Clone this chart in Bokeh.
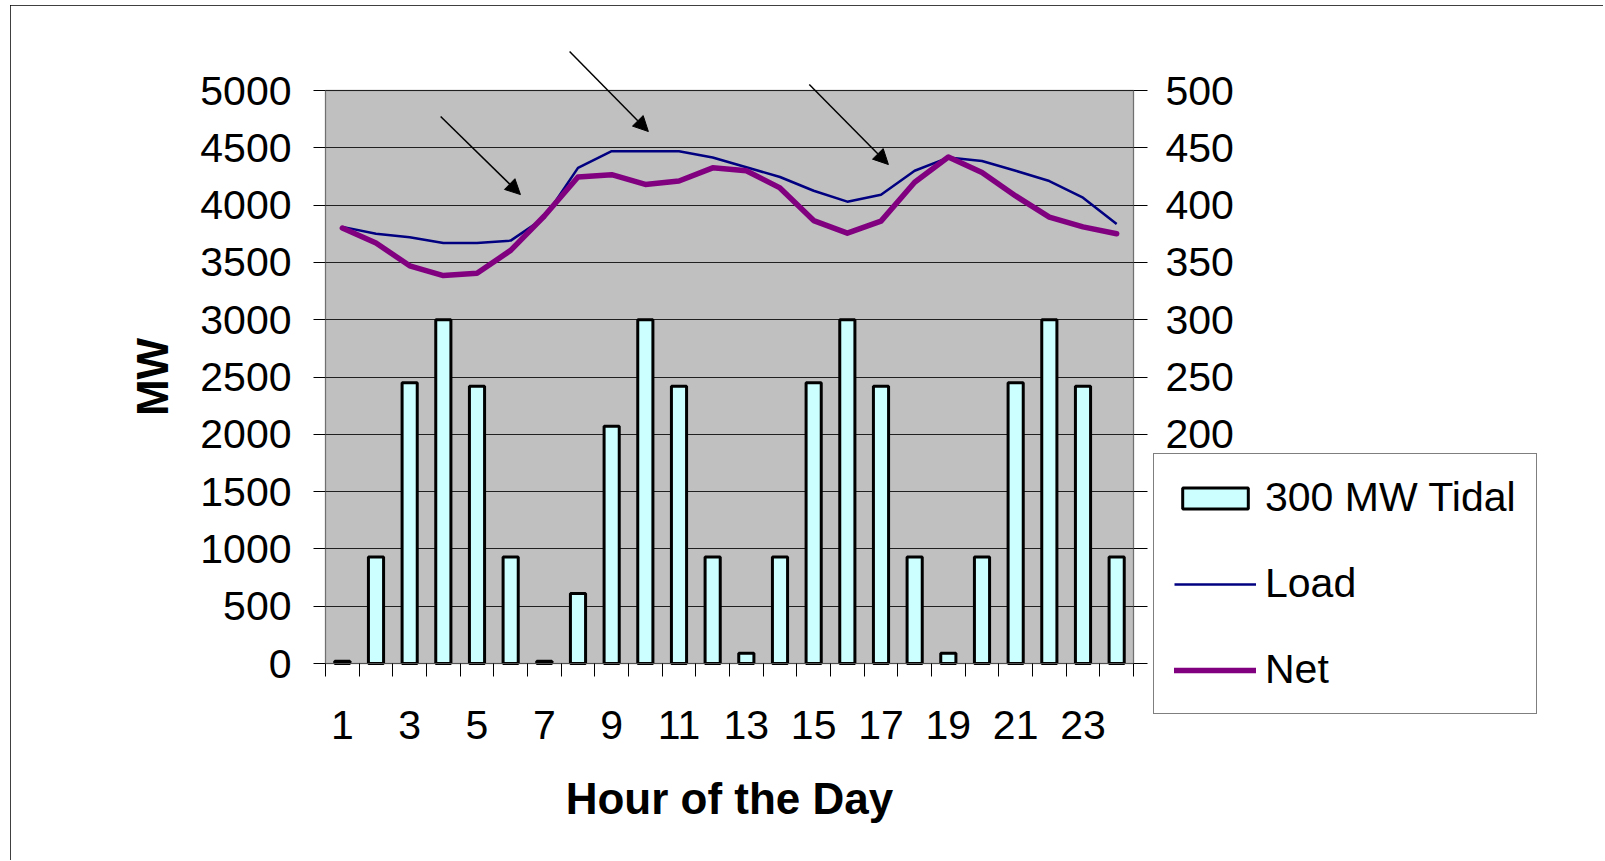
from bokeh.plotting import figure
from bokeh.models import (Range1d, LinearAxis, FixedTicker, Legend, LegendItem,
                          Arrow, NormalHead, ColumnDataSource, BoxAnnotation, Grid)
from bokeh.embed import file_html
from bokeh.resources import INLINE

# ---- data ----
hours = list(range(1, 25))
tidal = [2, 93, 245, 300, 242, 93, 2, 61, 207, 300, 242, 93,
         9, 93, 245, 300, 242, 93, 9, 93, 245, 300, 242, 93]
load = [3810, 3750, 3720, 3670, 3670, 3690, 3890, 4325, 4470, 4470, 4470, 4415,
        4330, 4245, 4125, 4030, 4090, 4300, 4415, 4385, 4300, 4210, 4065, 3835]
net = [3800, 3670, 3470, 3385, 3405, 3605, 3905, 4245, 4265, 4180, 4210, 4325,
       4300, 4150, 3865, 3755, 3860, 4200, 4420, 4285, 4080, 3895, 3810, 3750]
x_tick_labels = [1, 3, 5, 7, 9, 11, 13, 15, 17, 19, 21, 23]
left_ticks = list(range(0, 5001, 500))
right_ticks = list(range(0, 501, 50))
arrow_x_start = [3.92, 7.75, 14.87]
arrow_y_start = [4773, 5340, 5052]
arrow_x_end = [6.29, 10.09, 17.22]
arrow_y_end = [4092, 4642, 4354]

FONT = "Liberation Sans"

# ---- layout geometry (page pixels) ----
OFF_X, OFF_Y = 10, 5                  # figure offset on page
W, H = 1593, 855                      # figure size
AREA_L, AREA_R = 325, 1133            # plot area (hours 0.5 .. 24.5)
AREA_T, AREA_B = 90, 663              # plot area (MW 5000 .. 0)
FR_L, FR_R, FR_T, FR_B = 20, 1593, 20, 850   # drawing frame (holds axes, legend, arrows)
X0, X1 = 0.5, 24.5
Y0, Y1 = 0, 5000
px_x = (AREA_R - AREA_L) / (X1 - X0)
px_y = (AREA_B - AREA_T) / (Y1 - Y0)
x_start = X0 - (AREA_L - FR_L) / px_x
x_end = X1 + (FR_R - AREA_R) / px_x
y_start = Y0 - (FR_B - AREA_B) / px_y
y_end = Y1 + (AREA_T - FR_T) / px_y

p = figure(width=W, height=H, output_backend="svg", toolbar_location=None,
           x_range=Range1d(x_start, x_end), y_range=Range1d(y_start, y_end),
           min_border_left=FR_L - OFF_X, min_border_right=OFF_X + W - FR_R,
           min_border_top=FR_T - OFF_Y, min_border_bottom=OFF_Y + H - FR_B)
p.styles = {"outline": "3px solid black", "outline-offset": "-3px",
            "margin-left": f"{OFF_X}px", "margin-top": f"{OFF_Y}px"}
p.background_fill_color = "white"
p.border_fill_color = "white"
p.outline_line_color = None

p.extra_y_ranges = {"tidal": Range1d(y_start / 10, y_end / 10)}

# gray plot area
p.add_layout(BoxAnnotation(left=X0, right=X1, bottom=Y0, top=Y1,
                           fill_color="#C0C0C0", fill_alpha=1,
                           line_color="#808080", line_width=2, level="image"))

p.xgrid.grid_line_color = None
p.ygrid.grid_line_color = "#202020"
p.ygrid.grid_line_width = 1
p.ygrid.ticker = FixedTicker(ticks=left_ticks)
if "cross_bounds" in Grid.properties():
    p.ygrid.cross_bounds = (X0, X1)
    p.ygrid.bounds = (Y0, Y1)
else:
    p.ygrid.grid_line_color = None
    p.segment(x0=[X0] * len(left_ticks), x1=[X1] * len(left_ticks),
              y0=left_ticks, y1=left_ticks, line_color="#202020", line_width=1)

src = ColumnDataSource(dict(hour=hours, tidal=tidal, load=load, net=net))

bars = p.vbar(x="hour", top="tidal", bottom=0, width=0.45, source=src,
              y_range_name="tidal", fill_color="#CCFFFF", line_color="black",
              line_width=3)
load_r = p.line(x="hour", y="load", source=src, line_color="#000080", line_width=2.5)
net_r = p.line(x="hour", y="net", source=src, line_color="#800080", line_width=5.5,
               line_join="round", line_cap="round")

for xs, ys, xe, ye in zip(arrow_x_start, arrow_y_start, arrow_x_end, arrow_y_end):
    p.add_layout(Arrow(x_start=xs, y_start=ys, x_end=xe, y_end=ye,
                       line_color="black", line_width=1.5,
                       end=NormalHead(size=15, fill_color="black", line_color="black")))

# x axis
xa = p.xaxis[0]
xa.fixed_location = Y0
xa.bounds = (X0, X1)
xa.ticker = FixedTicker(ticks=x_tick_labels,
                        minor_ticks=[h + 0.5 for h in [0] + hours])
xa.major_tick_line_color = None
xa.minor_tick_line_color = "black"
xa.minor_tick_out = 13
xa.minor_tick_in = 0
xa.axis_line_color = "#505050"
xa.major_label_text_font = FONT
xa.major_label_text_font_size = "41px"
xa.major_label_text_color = "black"
xa.major_label_standoff = 34
xa.axis_label = "Hour of the Day"
xa.axis_label_text_font = FONT
xa.axis_label_text_font_size = "44px"
xa.axis_label_text_font_style = "bold"
xa.axis_label_text_color = "black"
xa.axis_label_standoff = 32

# left y axis
ya = p.yaxis[0]
ya.fixed_location = X0
ya.bounds = (Y0, Y1)
ya.ticker = FixedTicker(ticks=left_ticks, minor_ticks=[])
ya.major_tick_line_color = "black"
ya.major_tick_out = 12
ya.major_tick_in = 0
ya.axis_line_color = "#707070"
ya.major_label_text_font = FONT
ya.major_label_text_font_size = "41px"
ya.major_label_text_color = "black"
ya.major_label_standoff = 22
ya.axis_label = "MW"
ya.axis_label_text_font = FONT
ya.axis_label_text_font_size = "44px"
ya.axis_label_text_font_style = "bold"
ya.axis_label_text_color = "black"
ya.axis_label_standoff = 20

# right y axis (tidal)
ra = LinearAxis(y_range_name="tidal", fixed_location=X1, bounds=(Y0 / 10, Y1 / 10),
                ticker=FixedTicker(ticks=right_ticks, minor_ticks=[]))
ra.major_tick_line_color = "black"
ra.major_tick_out = 14
ra.major_tick_in = 0
ra.axis_line_color = "#707070"
ra.major_label_text_font = FONT
ra.major_label_text_font_size = "41px"
ra.major_label_text_color = "black"
ra.major_label_standoff = 18
p.add_layout(ra, "right")

LEG_L, LEG_B = 1153, 714
legend = Legend(items=[LegendItem(label="300 MW Tidal", renderers=[bars]),
                       LegendItem(label="Load", renderers=[load_r]),
                       LegendItem(label="Net", renderers=[net_r])],
                location=(LEG_L - FR_L, FR_B - LEG_B))
legend.label_text_font = FONT
legend.label_text_font_size = "41px"
legend.label_text_color = "black"
legend.glyph_width = 82
legend.glyph_height = 26
legend.label_height = 40
legend.label_standoff = 9
legend.spacing = 39
legend.padding = 20
legend.margin = 0
legend.border_line_color = "black"
legend.border_line_width = 1
legend.background_fill_color = "white"
legend.background_fill_alpha = 1
p.add_layout(legend, "center")

open("out.html", "w").write(file_html(p, INLINE))
